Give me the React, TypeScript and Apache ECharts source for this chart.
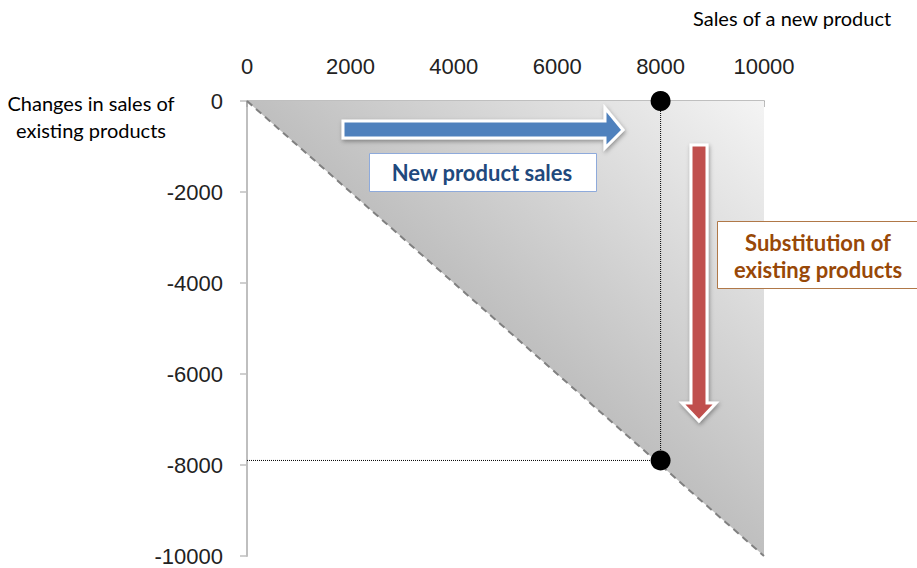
import React, { useEffect, useRef } from "react";
import * as echarts from "echarts";

const xTicks = [0, 2000, 4000, 6000, 8000, 10000];
const yTicks = [0, -2000, -4000, -6000, -8000, -10000];
const diagonal: [number, number][] = [
  [0, 0],
  [10000, -10000],
];
const points: [number, number][] = [
  [8000, 0],
  [8000, -7900],
];
const verticalGuide: [number, number][] = [
  [8000, 0],
  [8000, -7900],
];
const horizontalGuide: [number, number][] = [
  [0, -7900],
  [8000, -7900],
];
const titleText = "Sales of a new product";
const yNameLines = ["Changes in sales of", "existing products"];
const box1Text = "New product sales";
const box2Lines = ["Substitution of", "existing products"];

const FONT = "Lato, 'Open Sans', sans-serif";
const NUMFONT = "'Liberation Sans', Arial, sans-serif";

export default function App() {
  const ref = useRef<HTMLDivElement>(null);
  useEffect(() => {
    if (!ref.current) return;
    const chart = echarts.init(ref.current, undefined, { renderer: "svg" });
    chart.setOption({
      animation: false,
      grid: { left: 247, top: 101, right: 153, bottom: 12, containLabel: false },
      xAxis: {
        type: "value",
        position: "top",
        min: xTicks[0],
        max: xTicks[xTicks.length - 1],
        interval: 2000,
        splitLine: { show: false },
        axisLine: { show: true, lineStyle: { color: "#bfbfbf", width: 2 } },
        axisTick: { show: true, inside: true, length: 6, lineStyle: { color: "#a6a6a6", width: 1.5 } },
        axisLabel: {
          fontSize: 22,
          color: "#222",
          fontFamily: NUMFONT,
          margin: 24,
          formatter: (v: number) => String(v),
        },
      },
      yAxis: {
        type: "value",
        min: yTicks[yTicks.length - 1],
        max: yTicks[0],
        interval: 2000,
        splitLine: { show: false },
        axisLine: { show: true, lineStyle: { color: "#bfbfbf", width: 2 } },
        axisTick: { show: true, length: 7, lineStyle: { color: "#bfbfbf", width: 1.5 } },
        axisLabel: {
          fontSize: 22,
          color: "#222",
          fontFamily: NUMFONT,
          margin: 24,
          formatter: (v: number) => String(v),
        },
      },
      series: [
        {
          type: "line",
          data: diagonal,
          symbol: "none",
          lineStyle: { color: "#808080", width: 2, type: [7, 5] },
          areaStyle: {
            origin: "end",
            opacity: 1,
            color: new echarts.graphic.LinearGradient(1, 0, 0, 1, [
              { offset: 0, color: "#f4f4f4" },
              { offset: 1, color: "#8a8a8a" },
            ]),
          },
          z: 1,
        },
        {
          type: "line",
          data: verticalGuide,
          symbol: "none",
          lineStyle: { color: "#000", width: 1, type: "dotted" },
          z: 2,
        },
        {
          type: "line",
          data: horizontalGuide,
          symbol: "none",
          lineStyle: { color: "#000", width: 1, type: "dotted" },
          z: 2,
        },
        {
          type: "scatter",
          data: points,
          symbol: "circle",
          symbolSize: 20,
          itemStyle: { color: "#000", opacity: 1 },
          z: 5,
        },
      ],
      graphic: [
        {
          type: "text",
          left: 693,
          top: 8,
          style: { text: titleText, fontSize: 20, fontFamily: FONT, fill: "#000" },
        },
        {
          type: "text",
          x: 91,
          y: 116,
          style: {
            text: yNameLines.join("\n"),
            fontSize: 20,
            lineHeight: 27,
            fontFamily: FONT,
            fill: "#000",
            align: "center",
            verticalAlign: "middle",
          },
        },
        {
          type: "polygon",
          shape: {
            points: [
              [343, 121],
              [605, 121],
              [605, 108],
              [623, 130],
              [605, 148],
              [605, 138],
              [343, 138],
            ],
          },
          style: {
            fill: "#4f81bd",
            stroke: "#fff",
            lineWidth: 3,
            shadowBlur: 4,
            shadowColor: "rgba(0,0,0,0.35)",
            shadowOffsetX: 1,
            shadowOffsetY: 2,
          },
          z: 10,
        },
        {
          type: "polygon",
          shape: {
            points: [
              [691, 145],
              [707, 145],
              [707, 403],
              [716, 403],
              [699, 421],
              [682, 403],
              [691, 403],
            ],
          },
          style: {
            fill: "#c0504d",
            stroke: "#fff",
            lineWidth: 3,
            shadowBlur: 4,
            shadowColor: "rgba(0,0,0,0.35)",
            shadowOffsetX: 1,
            shadowOffsetY: 2,
          },
          z: 10,
        },
        {
          type: "rect",
          shape: { x: 369.5, y: 153.5, width: 227, height: 38 },
          style: { fill: "#fff", stroke: "#8eaadb", lineWidth: 1 },
          z: 10,
        },
        {
          type: "text",
          x: 482,
          y: 172,
          style: {
            text: box1Text,
            fontSize: 22,
            fontWeight: "bold",
            fontFamily: FONT,
            fill: "#1f497d",
            align: "center",
            verticalAlign: "middle",
          },
          z: 11,
        },
        {
          type: "rect",
          shape: { x: 717.5, y: 221.5, width: 205, height: 67 },
          style: { fill: "#fff", stroke: "#b07848", lineWidth: 1 },
          z: 10,
        },
        {
          type: "text",
          x: 818,
          y: 256,
          style: {
            text: box2Lines.join("\n"),
            fontSize: 22,
            lineHeight: 27,
            fontWeight: "bold",
            fontFamily: FONT,
            fill: "#984807",
            align: "center",
            verticalAlign: "middle",
          },
          z: 11,
        },
      ],
    });
    return () => chart.dispose();
  }, []);
  return (
    <div
      ref={ref}
      style={{ position: "fixed", left: 0, top: 0, width: 917, height: 568, background: "#fff" }}
    />
  );
}
